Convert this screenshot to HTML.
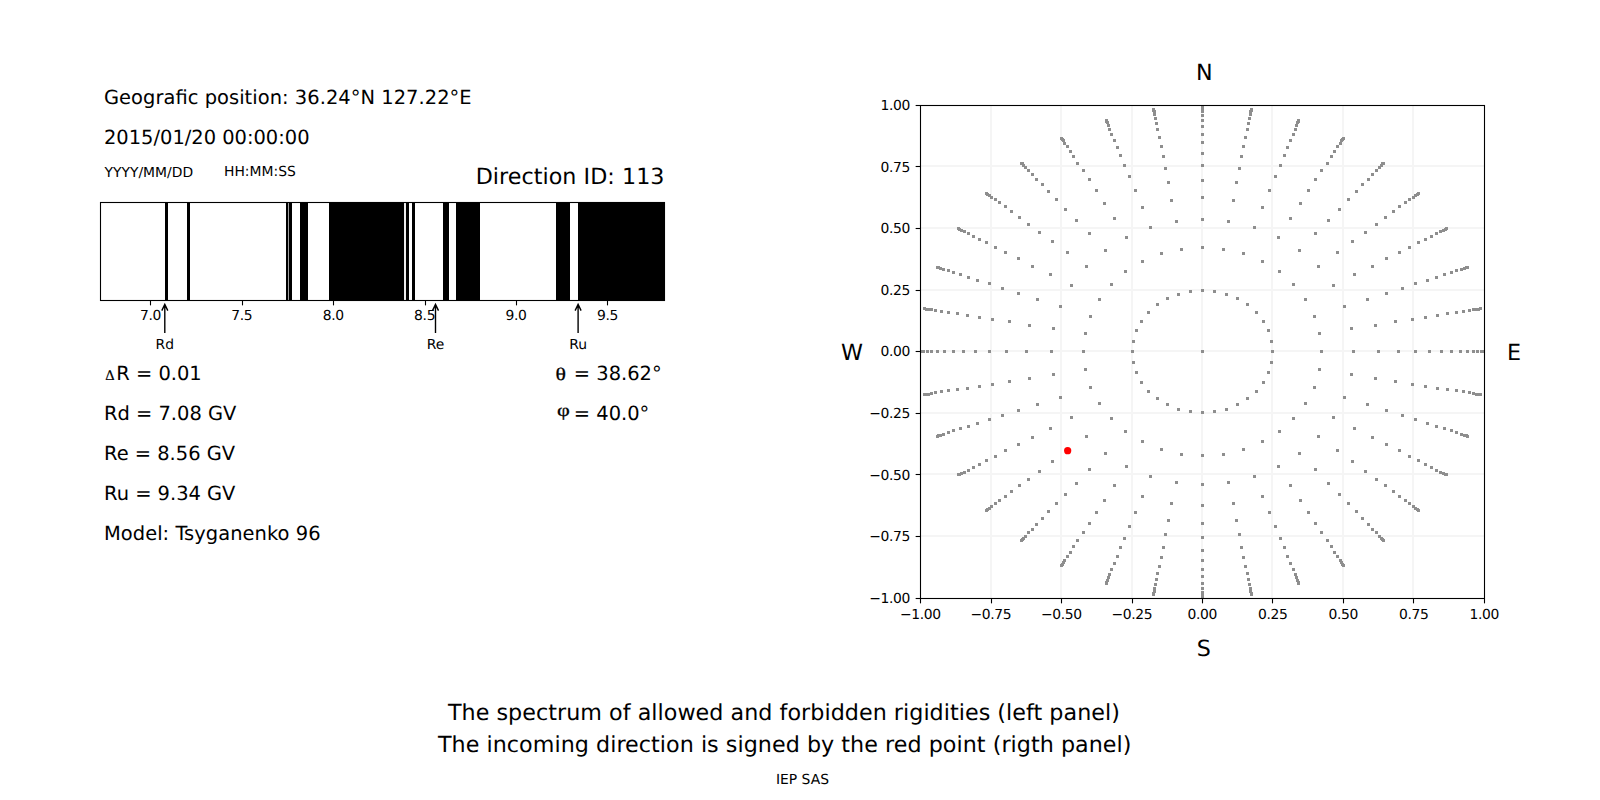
<!DOCTYPE html>
<html lang="en"><head><meta charset="utf-8"><title>Cutoff rigidity spectrum</title>
<style>
html,body{margin:0;padding:0;background:#fff;}
body{width:1600px;height:800px;overflow:hidden;font-family:"DejaVu Sans","Liberation Sans",sans-serif;}
svg{display:block;}
text{text-rendering:geometricPrecision;font-family:"DejaVu Sans","Liberation Sans",sans-serif;fill:#000;}
.t14{font-size:19.444px;}
.t16{font-size:22.222px;}
.t10{font-size:13.889px;}
.tk{letter-spacing:-0.34px;}
.ser{font-family:"Liberation Serif","DejaVu Serif",serif;stroke:#000;stroke-width:0.3px;}
</style></head><body>
<svg width="1600" height="800" viewBox="0 0 1600 800">
<rect x="0" y="0" width="1600" height="800" fill="#fff"/>
<text class="t14" x="104" y="104" textLength="367.6">Geografic position: 36.24°N 127.22°E</text>
<text class="t14" x="104" y="144">2015/01/20 00:00:00</text>
<text class="t10" x="104.5" y="176.5">YYYY/MM/DD</text>
<text class="t10" x="224" y="176">HH:MM:SS</text>
<text class="t16" x="664.5" y="184.2" text-anchor="end" textLength="188.85">Direction ID: 113</text>
<g shape-rendering="crispEdges">
<rect x="288" y="202.5" width="1" height="98.0" fill="#a0a0a0"/>
<rect x="404" y="202.5" width="2" height="98.0" fill="#ececec"/>
<rect x="165" y="202.5" width="3.00" height="98.0" fill="#000"/>
<rect x="187" y="202.5" width="3.00" height="98.0" fill="#000"/>
<rect x="286" y="202.5" width="2.00" height="98.0" fill="#000"/>
<rect x="289" y="202.5" width="3.00" height="98.0" fill="#000"/>
<rect x="300" y="202.5" width="8.00" height="98.0" fill="#000"/>
<rect x="328.75" y="202.5" width="75.25" height="98.0" fill="#000"/>
<rect x="406" y="202.5" width="2.75" height="98.0" fill="#000"/>
<rect x="412" y="202.5" width="3.00" height="98.0" fill="#000"/>
<rect x="443" y="202.5" width="6.00" height="98.0" fill="#000"/>
<rect x="456" y="202.5" width="24.00" height="98.0" fill="#000"/>
<rect x="556" y="202.5" width="14.00" height="98.0" fill="#000"/>
<rect x="578" y="202.5" width="87.00" height="98.0" fill="#000"/>
</g>
<rect x="100.5" y="202.5" width="564.0" height="98.0" fill="none" stroke="#000" stroke-width="1.1"/>
<line x1="150.5" y1="300.5" x2="150.5" y2="305.36" stroke="#000" stroke-width="1.1"/>
<text class="t10 tk" x="150.43" y="320.3" text-anchor="middle">7.0</text>
<line x1="242.5" y1="300.5" x2="242.5" y2="305.36" stroke="#000" stroke-width="1.1"/>
<text class="t10 tk" x="241.83" y="320.3" text-anchor="middle">7.5</text>
<line x1="333.5" y1="300.5" x2="333.5" y2="305.36" stroke="#000" stroke-width="1.1"/>
<text class="t10 tk" x="333.23" y="320.3" text-anchor="middle">8.0</text>
<line x1="425.5" y1="300.5" x2="425.5" y2="305.36" stroke="#000" stroke-width="1.1"/>
<text class="t10 tk" x="424.63" y="320.3" text-anchor="middle">8.5</text>
<line x1="516.5" y1="300.5" x2="516.5" y2="305.36" stroke="#000" stroke-width="1.1"/>
<text class="t10 tk" x="516.03" y="320.3" text-anchor="middle">9.0</text>
<line x1="607.5" y1="300.5" x2="607.5" y2="305.36" stroke="#000" stroke-width="1.1"/>
<text class="t10 tk" x="607.43" y="320.3" text-anchor="middle">9.5</text>
<path d="M164.8 333 L164.8 304.6 M161.8 310.6 L164.8 304.4 L167.8 310.6" fill="none" stroke="#000" stroke-width="1.39" stroke-linecap="butt" stroke-linejoin="miter"/>
<text class="t10" x="164.8" y="348.9" text-anchor="middle">Rd</text>
<path d="M435.5 333 L435.5 304.6 M432.5 310.6 L435.5 304.4 L438.5 310.6" fill="none" stroke="#000" stroke-width="1.39" stroke-linecap="butt" stroke-linejoin="miter"/>
<text class="t10" x="435.5" y="348.9" text-anchor="middle">Re</text>
<path d="M578.1 333 L578.1 304.6 M575.1 310.6 L578.1 304.4 L581.1 310.6" fill="none" stroke="#000" stroke-width="1.39" stroke-linecap="butt" stroke-linejoin="miter"/>
<text class="t10" x="578.1" y="348.9" text-anchor="middle">Ru</text>
<text class="ser" transform="translate(105.3 380) scale(0.725 0.735)" font-size="20px">Δ</text>
<text class="t14" x="116.3" y="380">R = 0.01</text>
<text class="t14" x="104" y="420">Rd = 7.08 GV</text>
<text class="t14" x="104" y="460">Re = 8.56 GV</text>
<text class="t14" x="104" y="500">Ru = 9.34 GV</text>
<text class="t14" x="104" y="540" textLength="216.5">Model: Tsyganenko 96</text>
<text class="ser" transform="translate(555.5 379.8) scale(1.09 0.89)" font-size="20px">θ</text>
<text class="t14" x="573.8" y="380">= 38.62°</text>
<text class="ser" transform="translate(556.9 415.7) scale(1.11 0.885)" font-size="20px">φ</text>
<text class="t14" x="573.8" y="420">= 40.0°</text>
<g fill="#f5f5f5" shape-rendering="crispEdges">
<rect x="990" y="105.5" width="2" height="493.0"/>
<rect x="920.5" y="535" width="564.0" height="2"/>
<rect x="1060" y="105.5" width="2" height="493.0"/>
<rect x="920.5" y="473" width="564.0" height="2"/>
<rect x="1131" y="105.5" width="2" height="493.0"/>
<rect x="920.5" y="412" width="564.0" height="2"/>
<rect x="1201" y="105.5" width="2" height="493.0"/>
<rect x="920.5" y="350" width="564.0" height="2"/>
<rect x="1271" y="105.5" width="2" height="493.0"/>
<rect x="920.5" y="289" width="564.0" height="2"/>
<rect x="1342" y="105.5" width="2" height="493.0"/>
<rect x="920.5" y="227" width="564.0" height="2"/>
<rect x="1412" y="105.5" width="2" height="493.0"/>
<rect x="920.5" y="165" width="564.0" height="2"/>
</g>
<clipPath id="c2"><rect x="920.5" y="105.5" width="564.0" height="493.0"/></clipPath>
<path clip-path="url(#c2)" shape-rendering="crispEdges" fill="#8e8e8e" d="M1201 350h3v3h-3zM1131 350h3v3h-3zM1132 361h3v3h-3zM1135 371h3v3h-3zM1140 381h3v3h-3zM1147 390h3v3h-3zM1156 397h3v3h-3zM1166 403h3v3h-3zM1177 408h3v3h-3zM1189 410h3v3h-3zM1201 411h3v3h-3zM1213 410h3v3h-3zM1225 408h3v3h-3zM1236 403h3v3h-3zM1246 397h3v3h-3zM1255 390h3v3h-3zM1262 381h3v3h-3zM1267 371h3v3h-3zM1270 361h3v3h-3zM1271 350h3v3h-3zM1270 340h3v3h-3zM1267 329h3v3h-3zM1262 320h3v3h-3zM1255 311h3v3h-3zM1246 303h3v3h-3zM1236 297h3v3h-3zM1225 293h3v3h-3zM1213 290h3v3h-3zM1201 289h3v3h-3zM1189 290h3v3h-3zM1177 293h3v3h-3zM1166 297h3v3h-3zM1156 303h3v3h-3zM1147 311h3v3h-3zM1140 320h3v3h-3zM1135 329h3v3h-3zM1132 340h3v3h-3zM1082 350h3v3h-3zM1084 368h3v3h-3zM1089 386h3v3h-3zM1098 402h3v3h-3zM1110 417h3v3h-3zM1124 430h3v3h-3zM1141 440h3v3h-3zM1160 448h3v3h-3zM1180 453h3v3h-3zM1201 454h3v3h-3zM1222 453h3v3h-3zM1242 448h3v3h-3zM1261 440h3v3h-3zM1278 430h3v3h-3zM1292 417h3v3h-3zM1304 402h3v3h-3zM1313 386h3v3h-3zM1318 368h3v3h-3zM1320 350h3v3h-3zM1318 332h3v3h-3zM1313 315h3v3h-3zM1304 298h3v3h-3zM1292 283h3v3h-3zM1278 270h3v3h-3zM1261 260h3v3h-3zM1242 252h3v3h-3zM1222 248h3v3h-3zM1201 246h3v3h-3zM1180 248h3v3h-3zM1160 252h3v3h-3zM1141 260h3v3h-3zM1124 270h3v3h-3zM1110 283h3v3h-3zM1098 298h3v3h-3zM1089 315h3v3h-3zM1084 332h3v3h-3zM1050 350h3v3h-3zM1052 373h3v3h-3zM1059 396h3v3h-3zM1070 416h3v3h-3zM1085 435h3v3h-3zM1104 452h3v3h-3zM1125 465h3v3h-3zM1149 475h3v3h-3zM1175 481h3v3h-3zM1201 483h3v3h-3zM1227 481h3v3h-3zM1253 475h3v3h-3zM1277 465h3v3h-3zM1298 452h3v3h-3zM1317 435h3v3h-3zM1332 416h3v3h-3zM1343 396h3v3h-3zM1350 373h3v3h-3zM1352 350h3v3h-3zM1350 327h3v3h-3zM1343 305h3v3h-3zM1332 284h3v3h-3zM1317 265h3v3h-3zM1298 249h3v3h-3zM1277 236h3v3h-3zM1253 226h3v3h-3zM1227 220h3v3h-3zM1201 218h3v3h-3zM1175 220h3v3h-3zM1149 226h3v3h-3zM1125 236h3v3h-3zM1104 249h3v3h-3zM1085 265h3v3h-3zM1070 284h3v3h-3zM1059 305h3v3h-3zM1052 327h3v3h-3zM1025 350h3v3h-3zM1028 377h3v3h-3zM1036 403h3v3h-3zM1049 427h3v3h-3zM1066 449h3v3h-3zM1088 468h3v3h-3zM1113 484h3v3h-3zM1141 495h3v3h-3zM1170 502h3v3h-3zM1201 504h3v3h-3zM1232 502h3v3h-3zM1261 495h3v3h-3zM1289 484h3v3h-3zM1314 468h3v3h-3zM1336 449h3v3h-3zM1353 427h3v3h-3zM1366 403h3v3h-3zM1374 377h3v3h-3zM1377 350h3v3h-3zM1374 324h3v3h-3zM1366 298h3v3h-3zM1353 273h3v3h-3zM1336 251h3v3h-3zM1314 232h3v3h-3zM1289 217h3v3h-3zM1261 206h3v3h-3zM1232 199h3v3h-3zM1201 196h3v3h-3zM1170 199h3v3h-3zM1141 206h3v3h-3zM1113 217h3v3h-3zM1088 232h3v3h-3zM1066 251h3v3h-3zM1049 273h3v3h-3zM1036 298h3v3h-3zM1028 324h3v3h-3zM1005 350h3v3h-3zM1008 380h3v3h-3zM1017 409h3v3h-3zM1031 436h3v3h-3zM1051 460h3v3h-3zM1075 482h3v3h-3zM1103 499h3v3h-3zM1134 511h3v3h-3zM1167 519h3v3h-3zM1201 522h3v3h-3zM1235 519h3v3h-3zM1268 511h3v3h-3zM1299 499h3v3h-3zM1327 482h3v3h-3zM1351 460h3v3h-3zM1371 436h3v3h-3zM1385 409h3v3h-3zM1394 380h3v3h-3zM1397 350h3v3h-3zM1394 320h3v3h-3zM1385 292h3v3h-3zM1371 265h3v3h-3zM1351 240h3v3h-3zM1327 219h3v3h-3zM1299 202h3v3h-3zM1268 189h3v3h-3zM1235 181h3v3h-3zM1201 179h3v3h-3zM1167 181h3v3h-3zM1134 189h3v3h-3zM1103 202h3v3h-3zM1075 219h3v3h-3zM1051 240h3v3h-3zM1031 265h3v3h-3zM1017 292h3v3h-3zM1008 320h3v3h-3zM988 350h3v3h-3zM991 383h3v3h-3zM1001 414h3v3h-3zM1017 443h3v3h-3zM1038 470h3v3h-3zM1064 493h3v3h-3zM1095 511h3v3h-3zM1128 525h3v3h-3zM1164 533h3v3h-3zM1201 536h3v3h-3zM1238 533h3v3h-3zM1274 525h3v3h-3zM1307 511h3v3h-3zM1338 493h3v3h-3zM1364 470h3v3h-3zM1385 443h3v3h-3zM1401 414h3v3h-3zM1411 383h3v3h-3zM1414 350h3v3h-3zM1411 318h3v3h-3zM1401 287h3v3h-3zM1385 257h3v3h-3zM1364 231h3v3h-3zM1338 208h3v3h-3zM1307 189h3v3h-3zM1274 175h3v3h-3zM1238 167h3v3h-3zM1201 164h3v3h-3zM1164 167h3v3h-3zM1128 175h3v3h-3zM1095 189h3v3h-3zM1064 208h3v3h-3zM1038 231h3v3h-3zM1017 257h3v3h-3zM1001 287h3v3h-3zM991 318h3v3h-3zM974 350h3v3h-3zM978 385h3v3h-3zM988 418h3v3h-3zM1004 449h3v3h-3zM1027 478h3v3h-3zM1055 502h3v3h-3zM1088 522h3v3h-3zM1123 537h3v3h-3zM1162 546h3v3h-3zM1201 549h3v3h-3zM1240 546h3v3h-3zM1279 537h3v3h-3zM1314 522h3v3h-3zM1347 502h3v3h-3zM1375 478h3v3h-3zM1398 449h3v3h-3zM1414 418h3v3h-3zM1424 385h3v3h-3zM1428 350h3v3h-3zM1424 316h3v3h-3zM1414 282h3v3h-3zM1398 251h3v3h-3zM1375 223h3v3h-3zM1347 198h3v3h-3zM1314 178h3v3h-3zM1279 164h3v3h-3zM1240 155h3v3h-3zM1201 152h3v3h-3zM1162 155h3v3h-3zM1123 164h3v3h-3zM1088 178h3v3h-3zM1055 198h3v3h-3zM1027 223h3v3h-3zM1004 251h3v3h-3zM988 282h3v3h-3zM978 316h3v3h-3zM962 350h3v3h-3zM966 387h3v3h-3zM976 422h3v3h-3zM994 455h3v3h-3zM1018 484h3v3h-3zM1047 510h3v3h-3zM1082 531h3v3h-3zM1119 546h3v3h-3zM1160 556h3v3h-3zM1201 559h3v3h-3zM1242 556h3v3h-3zM1283 546h3v3h-3zM1320 531h3v3h-3zM1355 510h3v3h-3zM1384 484h3v3h-3zM1408 455h3v3h-3zM1426 422h3v3h-3zM1436 387h3v3h-3zM1440 350h3v3h-3zM1436 314h3v3h-3zM1426 279h3v3h-3zM1408 246h3v3h-3zM1384 216h3v3h-3zM1355 190h3v3h-3zM1320 169h3v3h-3zM1283 154h3v3h-3zM1242 145h3v3h-3zM1201 141h3v3h-3zM1160 145h3v3h-3zM1119 154h3v3h-3zM1082 169h3v3h-3zM1047 190h3v3h-3zM1018 216h3v3h-3zM994 246h3v3h-3zM976 279h3v3h-3zM966 314h3v3h-3zM952 350h3v3h-3zM956 388h3v3h-3zM967 425h3v3h-3zM985 459h3v3h-3zM1010 490h3v3h-3zM1041 517h3v3h-3zM1076 539h3v3h-3zM1116 555h3v3h-3zM1158 565h3v3h-3zM1201 568h3v3h-3zM1244 565h3v3h-3zM1286 555h3v3h-3zM1326 539h3v3h-3zM1361 517h3v3h-3zM1392 490h3v3h-3zM1417 459h3v3h-3zM1435 425h3v3h-3zM1446 388h3v3h-3zM1450 350h3v3h-3zM1446 312h3v3h-3zM1435 276h3v3h-3zM1417 241h3v3h-3zM1392 210h3v3h-3zM1361 183h3v3h-3zM1326 162h3v3h-3zM1286 146h3v3h-3zM1244 136h3v3h-3zM1201 133h3v3h-3zM1158 136h3v3h-3zM1116 146h3v3h-3zM1076 162h3v3h-3zM1041 183h3v3h-3zM1010 210h3v3h-3zM985 241h3v3h-3zM967 276h3v3h-3zM956 312h3v3h-3zM943 350h3v3h-3zM947 389h3v3h-3zM959 427h3v3h-3zM978 463h3v3h-3zM1004 495h3v3h-3zM1035 523h3v3h-3zM1072 545h3v3h-3zM1113 562h3v3h-3zM1156 572h3v3h-3zM1201 575h3v3h-3zM1246 572h3v3h-3zM1289 562h3v3h-3zM1330 545h3v3h-3zM1367 523h3v3h-3zM1398 495h3v3h-3zM1424 463h3v3h-3zM1443 427h3v3h-3zM1455 389h3v3h-3zM1459 350h3v3h-3zM1455 311h3v3h-3zM1443 273h3v3h-3zM1424 238h3v3h-3zM1398 205h3v3h-3zM1367 178h3v3h-3zM1330 155h3v3h-3zM1289 139h3v3h-3zM1246 128h3v3h-3zM1201 125h3v3h-3zM1156 128h3v3h-3zM1113 139h3v3h-3zM1072 155h3v3h-3zM1035 178h3v3h-3zM1004 205h3v3h-3zM978 238h3v3h-3zM959 273h3v3h-3zM947 311h3v3h-3zM936 350h3v3h-3zM940 390h3v3h-3zM952 429h3v3h-3zM972 466h3v3h-3zM998 499h3v3h-3zM1031 528h3v3h-3zM1069 551h3v3h-3zM1110 568h3v3h-3zM1155 578h3v3h-3zM1201 582h3v3h-3zM1247 578h3v3h-3zM1292 568h3v3h-3zM1333 551h3v3h-3zM1371 528h3v3h-3zM1404 499h3v3h-3zM1430 466h3v3h-3zM1450 429h3v3h-3zM1462 390h3v3h-3zM1466 350h3v3h-3zM1462 310h3v3h-3zM1450 271h3v3h-3zM1430 235h3v3h-3zM1404 201h3v3h-3zM1371 173h3v3h-3zM1333 150h3v3h-3zM1292 133h3v3h-3zM1247 122h3v3h-3zM1201 119h3v3h-3zM1155 122h3v3h-3zM1110 133h3v3h-3zM1069 150h3v3h-3zM1031 173h3v3h-3zM998 201h3v3h-3zM972 235h3v3h-3zM952 271h3v3h-3zM940 310h3v3h-3zM930 350h3v3h-3zM934 391h3v3h-3zM947 431h3v3h-3zM967 469h3v3h-3zM994 502h3v3h-3zM1027 531h3v3h-3zM1066 555h3v3h-3zM1108 573h3v3h-3zM1154 583h3v3h-3zM1201 587h3v3h-3zM1248 583h3v3h-3zM1294 573h3v3h-3zM1336 555h3v3h-3zM1375 531h3v3h-3zM1408 502h3v3h-3zM1435 469h3v3h-3zM1455 431h3v3h-3zM1468 391h3v3h-3zM1472 350h3v3h-3zM1468 309h3v3h-3zM1455 269h3v3h-3zM1435 232h3v3h-3zM1408 198h3v3h-3zM1375 169h3v3h-3zM1336 145h3v3h-3zM1294 128h3v3h-3zM1248 117h3v3h-3zM1201 114h3v3h-3zM1154 117h3v3h-3zM1108 128h3v3h-3zM1066 145h3v3h-3zM1027 169h3v3h-3zM994 198h3v3h-3zM967 232h3v3h-3zM947 269h3v3h-3zM934 309h3v3h-3zM926 350h3v3h-3zM930 392h3v3h-3zM942 433h3v3h-3zM963 471h3v3h-3zM990 505h3v3h-3zM1024 535h3v3h-3zM1063 559h3v3h-3zM1107 576h3v3h-3zM1153 587h3v3h-3zM1201 591h3v3h-3zM1249 587h3v3h-3zM1295 576h3v3h-3zM1339 559h3v3h-3zM1378 535h3v3h-3zM1412 505h3v3h-3zM1439 471h3v3h-3zM1460 433h3v3h-3zM1472 392h3v3h-3zM1476 350h3v3h-3zM1472 308h3v3h-3zM1460 268h3v3h-3zM1439 230h3v3h-3zM1412 196h3v3h-3zM1378 166h3v3h-3zM1339 142h3v3h-3zM1295 124h3v3h-3zM1249 113h3v3h-3zM1201 110h3v3h-3zM1153 113h3v3h-3zM1107 124h3v3h-3zM1063 142h3v3h-3zM1024 166h3v3h-3zM990 196h3v3h-3zM963 230h3v3h-3zM942 268h3v3h-3zM930 308h3v3h-3zM922 350h3v3h-3zM927 393h3v3h-3zM939 434h3v3h-3zM960 472h3v3h-3zM988 507h3v3h-3zM1022 537h3v3h-3zM1062 561h3v3h-3zM1106 579h3v3h-3zM1153 590h3v3h-3zM1201 594h3v3h-3zM1249 590h3v3h-3zM1296 579h3v3h-3zM1340 561h3v3h-3zM1380 537h3v3h-3zM1414 507h3v3h-3zM1442 472h3v3h-3zM1463 434h3v3h-3zM1475 393h3v3h-3zM1480 350h3v3h-3zM1475 308h3v3h-3zM1463 267h3v3h-3zM1442 229h3v3h-3zM1414 194h3v3h-3zM1380 164h3v3h-3zM1340 139h3v3h-3zM1296 121h3v3h-3zM1249 110h3v3h-3zM1201 107h3v3h-3zM1153 110h3v3h-3zM1106 121h3v3h-3zM1062 139h3v3h-3zM1022 164h3v3h-3zM988 194h3v3h-3zM960 229h3v3h-3zM939 267h3v3h-3zM927 308h3v3h-3zM920 350h3v3h-3zM925 393h3v3h-3zM937 434h3v3h-3zM958 473h3v3h-3zM986 508h3v3h-3zM1021 538h3v3h-3zM1061 563h3v3h-3zM1105 581h3v3h-3zM1152 592h3v3h-3zM1201 596h3v3h-3zM1250 592h3v3h-3zM1297 581h3v3h-3zM1341 563h3v3h-3zM1381 538h3v3h-3zM1416 508h3v3h-3zM1444 473h3v3h-3zM1465 434h3v3h-3zM1477 393h3v3h-3zM1482 350h3v3h-3zM1477 308h3v3h-3zM1465 266h3v3h-3zM1444 228h3v3h-3zM1416 193h3v3h-3zM1381 162h3v3h-3zM1341 138h3v3h-3zM1297 120h3v3h-3zM1250 109h3v3h-3zM1201 105h3v3h-3zM1152 109h3v3h-3zM1105 120h3v3h-3zM1061 138h3v3h-3zM1021 162h3v3h-3zM986 193h3v3h-3zM958 228h3v3h-3zM937 266h3v3h-3zM925 308h3v3h-3zM919 350h3v3h-3zM923 393h3v3h-3zM936 435h3v3h-3zM957 473h3v3h-3zM985 509h3v3h-3zM1020 539h3v3h-3zM1060 564h3v3h-3zM1105 582h3v3h-3zM1152 593h3v3h-3zM1201 597h3v3h-3zM1250 593h3v3h-3zM1297 582h3v3h-3zM1342 564h3v3h-3zM1382 539h3v3h-3zM1417 509h3v3h-3zM1445 473h3v3h-3zM1466 435h3v3h-3zM1479 393h3v3h-3zM1483 350h3v3h-3zM1479 307h3v3h-3zM1466 266h3v3h-3zM1445 227h3v3h-3zM1417 192h3v3h-3zM1382 162h3v3h-3zM1342 137h3v3h-3zM1297 119h3v3h-3zM1250 108h3v3h-3zM1201 104h3v3h-3zM1152 108h3v3h-3zM1105 119h3v3h-3zM1060 137h3v3h-3zM1020 162h3v3h-3zM985 192h3v3h-3zM957 227h3v3h-3zM936 266h3v3h-3zM923 307h3v3h-3z"/>
<circle cx="1067.66" cy="450.65" r="3.6" fill="#ff0000"/>
<rect x="920.5" y="105.5" width="564.0" height="493.0" fill="none" stroke="#000" stroke-width="1.1"/>
<line x1="920.5" y1="598.5" x2="920.5" y2="603.36" stroke="#000" stroke-width="1.1"/>
<line x1="920.5" y1="598.5" x2="915.64" y2="598.5" stroke="#000" stroke-width="1.1"/>
<text class="t10 tk" x="920.33" y="618.6" text-anchor="middle">−1.00</text>
<text class="t10 tk" x="910.0" y="602.95" text-anchor="end">−1.00</text>
<line x1="991.5" y1="598.5" x2="991.5" y2="603.36" stroke="#000" stroke-width="1.1"/>
<line x1="920.5" y1="536.5" x2="915.64" y2="536.5" stroke="#000" stroke-width="1.1"/>
<text class="t10 tk" x="990.83" y="618.6" text-anchor="middle">−0.75</text>
<text class="t10 tk" x="910.0" y="541.33" text-anchor="end">−0.75</text>
<line x1="1061.5" y1="598.5" x2="1061.5" y2="603.36" stroke="#000" stroke-width="1.1"/>
<line x1="920.5" y1="474.5" x2="915.64" y2="474.5" stroke="#000" stroke-width="1.1"/>
<text class="t10 tk" x="1061.33" y="618.6" text-anchor="middle">−0.50</text>
<text class="t10 tk" x="910.0" y="479.70" text-anchor="end">−0.50</text>
<line x1="1132.5" y1="598.5" x2="1132.5" y2="603.36" stroke="#000" stroke-width="1.1"/>
<line x1="920.5" y1="413.5" x2="915.64" y2="413.5" stroke="#000" stroke-width="1.1"/>
<text class="t10 tk" x="1131.83" y="618.6" text-anchor="middle">−0.25</text>
<text class="t10 tk" x="910.0" y="418.07" text-anchor="end">−0.25</text>
<line x1="1202.5" y1="598.5" x2="1202.5" y2="603.36" stroke="#000" stroke-width="1.1"/>
<line x1="920.5" y1="351.5" x2="915.64" y2="351.5" stroke="#000" stroke-width="1.1"/>
<text class="t10 tk" x="1202.33" y="618.6" text-anchor="middle">0.00</text>
<text class="t10 tk" x="910.0" y="356.45" text-anchor="end">0.00</text>
<line x1="1272.5" y1="598.5" x2="1272.5" y2="603.36" stroke="#000" stroke-width="1.1"/>
<line x1="920.5" y1="290.5" x2="915.64" y2="290.5" stroke="#000" stroke-width="1.1"/>
<text class="t10 tk" x="1272.83" y="618.6" text-anchor="middle">0.25</text>
<text class="t10 tk" x="910.0" y="294.82" text-anchor="end">0.25</text>
<line x1="1343.5" y1="598.5" x2="1343.5" y2="603.36" stroke="#000" stroke-width="1.1"/>
<line x1="920.5" y1="228.5" x2="915.64" y2="228.5" stroke="#000" stroke-width="1.1"/>
<text class="t10 tk" x="1343.33" y="618.6" text-anchor="middle">0.50</text>
<text class="t10 tk" x="910.0" y="233.20" text-anchor="end">0.50</text>
<line x1="1413.5" y1="598.5" x2="1413.5" y2="603.36" stroke="#000" stroke-width="1.1"/>
<line x1="920.5" y1="166.5" x2="915.64" y2="166.5" stroke="#000" stroke-width="1.1"/>
<text class="t10 tk" x="1413.83" y="618.6" text-anchor="middle">0.75</text>
<text class="t10 tk" x="910.0" y="171.57" text-anchor="end">0.75</text>
<line x1="1484.5" y1="598.5" x2="1484.5" y2="603.36" stroke="#000" stroke-width="1.1"/>
<line x1="920.5" y1="105.5" x2="915.64" y2="105.5" stroke="#000" stroke-width="1.1"/>
<text class="t10 tk" x="1484.33" y="618.6" text-anchor="middle">1.00</text>
<text class="t10 tk" x="910.0" y="109.95" text-anchor="end">1.00</text>
<text class="t16" x="1204.25" y="80" text-anchor="middle">N</text>
<text class="t16" x="1203.9" y="655.8" text-anchor="middle">S</text>
<text class="t16" x="851.9" y="360" text-anchor="middle">W</text>
<text class="t16" x="1514.05" y="360" text-anchor="middle">E</text>
<text class="t16" x="447.95" y="720" textLength="671.9">The spectrum of allowed and forbidden rigidities (left panel)</text>
<text class="t16" x="437.95" y="752" textLength="693.5">The incoming direction is signed by the red point (rigth panel)</text>
<text class="t10" x="802.5" y="784" text-anchor="middle">IEP SAS</text>
</svg></body></html>
